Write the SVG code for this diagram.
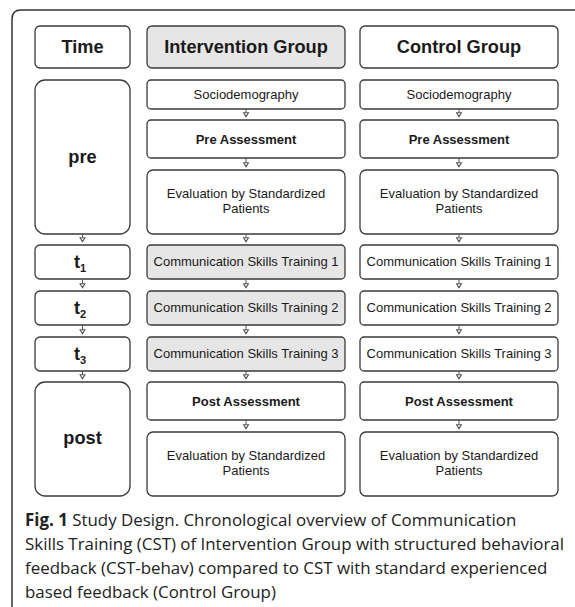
<svg xmlns="http://www.w3.org/2000/svg" width="575" height="607" viewBox="0 0 575 607">
<defs>
<marker id="ah" viewBox="0 0 10 10" refX="5" refY="9" markerWidth="7" markerHeight="7" orient="0" markerUnits="userSpaceOnUse">
<path d="M1.5,3 L8.5,3 L5,8.5 Z" fill="#fff" stroke="#555" stroke-width="1.5"/>
</marker>
</defs>
<style>
.b{fill:#fff;stroke:#3a3a3a;stroke-width:1.3}
.g{fill:#e6e6e6;stroke:#3a3a3a;stroke-width:1.3}
.h{font-family:"Liberation Sans",Arial,sans-serif;font-weight:bold;font-size:18.2px;fill:#1a1a1a;text-anchor:middle}
.s{font-family:"Liberation Sans",Arial,sans-serif;font-size:13px;fill:#1a1a1a;text-anchor:middle}
.sb{font-family:"Liberation Sans",Arial,sans-serif;font-size:13px;font-weight:bold;fill:#1a1a1a;text-anchor:middle}
.c{stroke:#555;stroke-width:1;fill:none;marker-end:url(#ah)}
.cap{font-family:"Open Sans","DejaVu Sans",sans-serif;font-size:16.9px;fill:#222}
</style>
<rect width="575" height="607" fill="#fff"/>
<path d="M12,607 L12,19 Q12,10 21,10 L575,10" fill="none" stroke="#333" stroke-width="1.5"/>

<g id="time"><rect class="b" x="35" y="26" width="95" height="42" rx="5"/><text class="h" x="82.5" y="53">Time</text></g>
<g id="intervention"><rect class="g" x="147" y="26" width="198" height="42" rx="5"/><text class="h" x="246" y="53">Intervention Group</text></g>
<g id="control"><rect class="b" x="360" y="26" width="198" height="42" rx="5"/><text class="h" x="459" y="53">Control Group</text></g>

<g id="pre"><rect class="b" x="35" y="80" width="95" height="154" rx="10"/><text class="h" x="82.5" y="163">pre</text></g>
<g id="t1"><rect class="b" x="35" y="245" width="95" height="34" rx="5"/><text class="h" x="80" y="268">t<tspan font-size="11px" dy="4">1</tspan></text></g>
<g id="t2"><rect class="b" x="35" y="291" width="95" height="34" rx="5"/><text class="h" x="80" y="314">t<tspan font-size="11px" dy="4">2</tspan></text></g>
<g id="t3"><rect class="b" x="35" y="337" width="95" height="34" rx="5"/><text class="h" x="80" y="360">t<tspan font-size="11px" dy="4">3</tspan></text></g>
<g id="post"><rect class="b" x="35" y="382" width="95" height="114" rx="10"/><text class="h" x="82.5" y="444">post</text></g>

<g id="i-socio"><rect class="b" x="147" y="80" width="198" height="29" rx="4"/><text class="s" x="246" y="99">Sociodemography</text></g>
<g id="i-pre"><rect class="b" x="147" y="120" width="198" height="38" rx="4"/><text class="sb" x="246" y="144">Pre Assessment</text></g>
<g id="i-eval1"><rect class="b" x="147" y="170" width="198" height="64" rx="6"/><text class="s" x="246" y="198">Evaluation by Standardized</text><text class="s" x="246" y="212.5">Patients</text></g>
<g id="i-cst1"><rect class="g" x="147" y="245" width="198" height="34" rx="4"/><text class="s" x="246" y="266">Communication Skills Training 1</text></g>
<g id="i-cst2"><rect class="g" x="147" y="291" width="198" height="34" rx="4"/><text class="s" x="246" y="312">Communication Skills Training 2</text></g>
<g id="i-cst3"><rect class="g" x="147" y="337" width="198" height="34" rx="4"/><text class="s" x="246" y="358">Communication Skills Training 3</text></g>
<g id="i-post"><rect class="b" x="147" y="382" width="198" height="38" rx="4"/><text class="sb" x="246" y="406">Post Assessment</text></g>
<g id="i-eval2"><rect class="b" x="147" y="432" width="198" height="64" rx="6"/><text class="s" x="246" y="460">Evaluation by Standardized</text><text class="s" x="246" y="474.5">Patients</text></g>

<g id="c-socio"><rect class="b" x="360" y="80" width="198" height="29" rx="4"/><text class="s" x="459" y="99">Sociodemography</text></g>
<g id="c-pre"><rect class="b" x="360" y="120" width="198" height="38" rx="4"/><text class="sb" x="459" y="144">Pre Assessment</text></g>
<g id="c-eval1"><rect class="b" x="360" y="170" width="198" height="64" rx="6"/><text class="s" x="459" y="198">Evaluation by Standardized</text><text class="s" x="459" y="212.5">Patients</text></g>
<g id="c-cst1"><rect class="b" x="360" y="245" width="198" height="34" rx="4"/><text class="s" x="459" y="266">Communication Skills Training 1</text></g>
<g id="c-cst2"><rect class="b" x="360" y="291" width="198" height="34" rx="4"/><text class="s" x="459" y="312">Communication Skills Training 2</text></g>
<g id="c-cst3"><rect class="b" x="360" y="337" width="198" height="34" rx="4"/><text class="s" x="459" y="358">Communication Skills Training 3</text></g>
<g id="c-post"><rect class="b" x="360" y="382" width="198" height="38" rx="4"/><text class="sb" x="459" y="406">Post Assessment</text></g>
<g id="c-eval2"><rect class="b" x="360" y="432" width="198" height="64" rx="6"/><text class="s" x="459" y="460">Evaluation by Standardized</text><text class="s" x="459" y="474.5">Patients</text></g>

<g id="connectors">
<path class="c" d="M82.5,234 V242"/>
<path class="c" d="M82.5,279 V288"/>
<path class="c" d="M82.5,325 V334"/>
<path class="c" d="M82.5,371 V379"/>
<path class="c" d="M246,109 V117"/>
<path class="c" d="M246,158 V167"/>
<path class="c" d="M246,234 V242"/>
<path class="c" d="M246,279 V288"/>
<path class="c" d="M246,325 V334"/>
<path class="c" d="M246,371 V379"/>
<path class="c" d="M246,420 V429"/>
<path class="c" d="M459,109 V117"/>
<path class="c" d="M459,158 V167"/>
<path class="c" d="M459,234 V242"/>
<path class="c" d="M459,279 V288"/>
<path class="c" d="M459,325 V334"/>
<path class="c" d="M459,371 V379"/>
<path class="c" d="M459,420 V429"/>
</g>

<g id="caption">
<text class="cap" x="25" y="526"><tspan font-weight="bold">Fig. 1</tspan> Study Design. Chronological overview of Communication</text>
<text class="cap" x="25" y="550">Skills Training (CST) of Intervention Group with structured behavioral</text>
<text class="cap" x="25" y="574">feedback (CST-behav) compared to CST with standard experienced</text>
<text class="cap" x="25" y="598">based feedback (Control Group)</text>
</g>
</svg>
